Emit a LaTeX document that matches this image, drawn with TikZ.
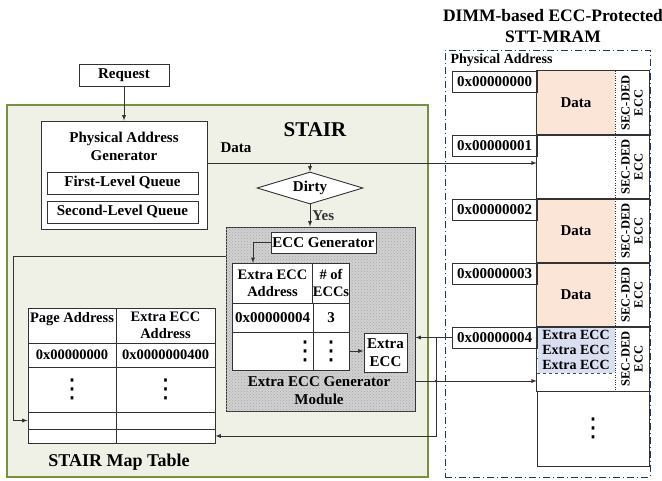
\documentclass[tikz,border=0pt]{standalone}
\usepackage{fontspec}
\setmainfont{Liberation Serif}
\newfontfamily\dotsfont{DejaVu Sans}
\usetikzlibrary{positioning,shapes.geometric,patterns}
\definecolor{stairfill}{RGB}{239,241,231}
\definecolor{stairline}{RGB}{118,146,60}
\definecolor{datafill}{RGB}{251,229,214}
\definecolor{extrafill}{RGB}{217,223,240}
\definecolor{dimmline}{RGB}{31,56,100}
\newcommand{\vdotsfour}{{\dotsfont\mdseries\fontsize{26}{26}\selectfont ⋮}}
\tikzset{
  blk/.style={draw=black!80, fill=white, line width=0.9pt, inner sep=0pt, align=center},
  conn/.style={-latex, line width=0.9pt, black!80},
  tbl/.style={font=\fontsize{14.5}{17}\selectfont\bfseries},
}
\begin{document}
\begin{tikzpicture}[x=1pt, y=-1pt, font=\fontsize{15}{18}\selectfont\bfseries]
    \useasboundingbox (0,0) rectangle (662,480);
    \node[draw=stairline, fill=stairfill, line width=1.1pt, minimum width=421pt, minimum height=372pt] (stair) at (217.5,291) {};
    \node[draw=dimmline, line width=1pt, dash pattern=on 7pt off 3pt on 1pt off 3pt, minimum width=205pt, minimum height=427pt] (dimm) at (547.5,263.5) {};
    \node[font=\fontsize{21}{24}\selectfont\bfseries] (stairtitle) at (315,130) {STAIR};
    \node[align=center, font=\fontsize{17.5}{21}\selectfont\bfseries] (dimmtitle) at (553,26) {DIMM-based ECC-Protected\\STT-MRAM};
    \node[anchor=west, font=\fontsize{14}{16}\selectfont\bfseries] (physaddr) at (447,60) {Physical Address};
    \node[blk, minimum width=90pt, minimum height=22pt] (req) at (124,75) {Request};
    \node[blk, minimum width=166pt, minimum height=108pt] (pag) at (124,175) {};
    \node[align=center] (pagtext) at (124,146) {Physical Address\\Generator};
    \node[blk, minimum width=151pt, minimum height=22pt] (q1) at (122.5,183) {First-Level Queue};
    \node[blk, minimum width=151pt, minimum height=22pt] (q2) at (122.5,212) {Second-Level Queue};
    \draw[conn] (req) -- (pag);
    % memory rows
    \foreach \i/\addr/\col/\txt in {0/0x00000000/datafill/Data, 1/0x00000001/white/, 2/0x00000002/datafill/Data, 3/0x00000003/datafill/Data, 4/0x00000004/white/} {
        \node[fill=\col, minimum width=78pt, minimum height=64pt, inner sep=0pt] (d\i) at (576,{103+64*\i}) {\txt};
        \node[minimum width=34pt, minimum height=64pt, inner sep=0pt] (e\i) at (632,{103+64*\i}) {};
        \node[blk, minimum width=85pt, minimum height=21pt] (a\i) at (494.5,{81.5+64*\i}) {\addr};
    }
    \foreach \k in {0,1,2} {
        \node[fill=extrafill, minimum width=77pt, minimum height=15pt, inner sep=0pt, font=\fontsize{14}{14}\selectfont\bfseries] (x\k) at (576,{335+15*\k}) {Extra ECC};
        \draw[dashed, black!70] (x\k.south west) -- (x\k.south east);
    }
    \foreach \i in {0,...,4} {
        \draw[line width=0.9pt, black!80] (d\i.north west) rectangle (e\i.south east);
        \draw[dotted, black!80] (d\i.north east) -- (d\i.south east);
        \node[rotate=90, align=center, font=\fontsize{12.5}{13}\selectfont\bfseries] (ecc\i) at (e\i) {SEC-DED\\ECC};
    }
    \node[blk, minimum width=112pt, minimum height=75pt] (d5) at (593,428.5) {\vdotsfour};
    % STAIR internals
    \node[diamond, draw=black!80, fill=white, line width=0.9pt, inner sep=0pt, aspect=3.3, minimum width=106pt, minimum height=32pt] (dirty) at (310,188) {Dirty};
    \node[draw=black!80, line width=0.9pt, fill=black!18, postaction={pattern=crosshatch dots, pattern color=black!35}, minimum width=189pt, minimum height=184pt] (module) at (320.5,319) {};
    \node[align=center] (modtext) at (319,391) {Extra ECC Generator\\Module};
    \node[blk, minimum width=105pt, minimum height=21pt] (eccgen) at (323.5,242.5) {ECC Generator};
    \node[blk, tbl, minimum width=81pt, minimum height=40pt] (c11) at (272.5,283) {Extra ECC\\Address};
    \node[blk, tbl, minimum width=36pt, minimum height=40pt] (c12) at (331,283) {\# of\\ECCs};
    \node[blk, minimum width=81pt, minimum height=29pt] (c21) at (272.5,317.5) {0x00000004};
    \node[blk, minimum width=36pt, minimum height=29pt] (c22) at (331,317.5) {3};
    \node[blk, minimum width=81pt, minimum height=38pt] (c31) at (272.5,351) {};
    \node[blk, minimum width=36pt, minimum height=38pt] (c32) at (331,351) {\vdotsfour};
    \node (c31dots) at (305,351) {\vdotsfour};
    \node[blk, minimum width=43pt, minimum height=39pt] (extraecc) at (385.5,352.5) {Extra\\ECC};
    \node[blk, tbl, minimum width=88pt, minimum height=35pt] (m11) at (72,325.5) {Page Address\\\mbox{}};
    \node[blk, tbl, minimum width=99pt, minimum height=35pt] (m12) at (165.5,325.5) {Extra ECC\\Address};
    \foreach \r/\yc/\h/\ta/\tb in {2/355/24/0x00000000/0x0000000400, 3/389.5/45/\vdotsfour/\vdotsfour, 4/420.5/17//, 5/436/14//} {
        \node[blk, tbl, minimum width=88pt, minimum height=\h pt] (m\r1) at (72,\yc) {\ta};
        \node[blk, tbl, minimum width=99pt, minimum height=\h pt] (m\r2) at (165.5,\yc) {\tb};
    }
    \node[font=\fontsize{18}{20}\selectfont\bfseries] (maptitle) at (119,462) {STAIR Map Table};
    \node (datalbl) at (236,148) {Data};
    % connectors
    \coordinate (datain) at ([yshift=4pt]d1.west);
    \coordinate (genin) at (253,263);
    \coordinate (modleft) at (226,256);
    \coordinate (leftrail) at (13,0);
    \coordinate (rail) at (436,0);
    \coordinate (modright) at (415,381);
    \draw[conn] (datain -| pag.east) -- (datain);
    \draw[conn] (datain -| dirty.north) -- (dirty.north);
    \draw[conn] (dirty.south) -- (dirty.south |- module.north) node[midway, right, inner sep=2pt] (yes) {Yes};
    \draw[conn] (eccgen.west) -| (genin);
    \draw[conn] (c32.east) -- (c32.east -| extraecc.west);
    \draw[conn] (modleft) -- (modleft -| leftrail) -- (m41.west -| leftrail) -- (m41.west);
    \draw[conn] (a4.west) -- (a4.west -| module.east);
    \draw[conn] (a4.west -| rail) -- (m52.east -| rail) -- (m52.east);
    \draw[conn] (modright) -- (modright -| d4.west);
    \fill[black!80] (modright -| rail) circle (1.3pt);
\end{tikzpicture}
\end{document}
